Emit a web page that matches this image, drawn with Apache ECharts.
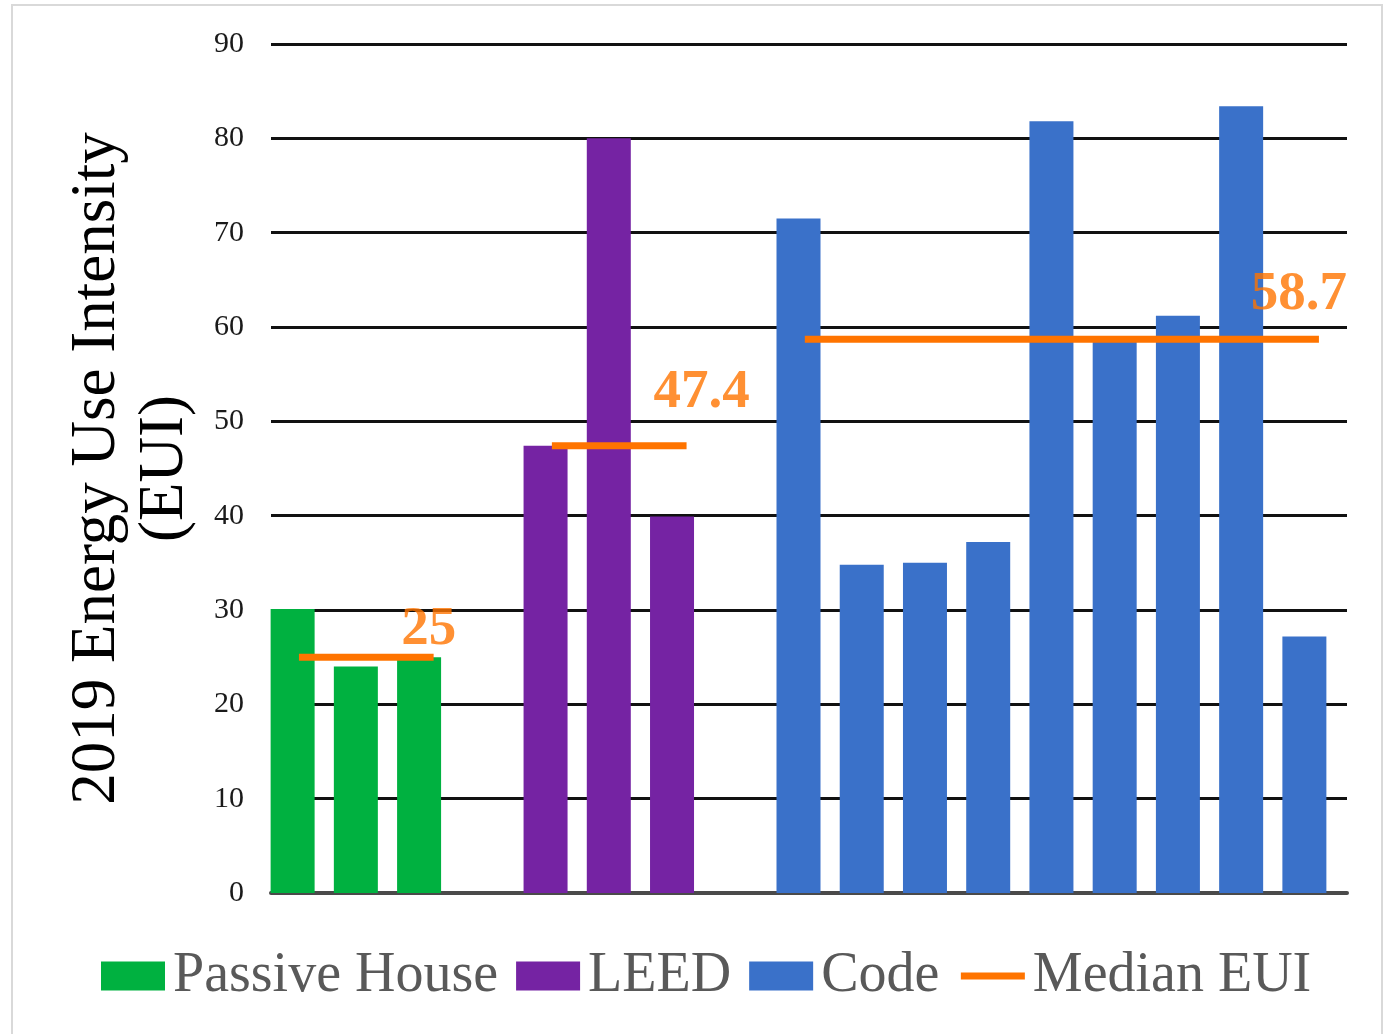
<!DOCTYPE html>
<html>
<head>
<meta charset="utf-8">
<script src="https://cdn.jsdelivr.net/npm/echarts@6/dist/echarts.min.js"></script>
<style>
  html, body { margin: 0; padding: 0; background: #fff; }
  #chart { width: 1386px; height: 1034px; }
</style>
</head>
<body>
<div id="chart"></div>
<script>
// building categories (gaps separate the three groups)
const categories = [
  'PH 1', 'PH 2', 'PH 3', 'gap 1',
  'LEED 1', 'LEED 2', 'LEED 3', 'gap 2',
  'Code 1', 'Code 2', 'Code 3', 'Code 4', 'Code 5', 'Code 6', 'Code 7', 'Code 8', 'Code 9'
];
const passiveHouse = [30.1, 24.0, 25.0];
const leed = [47.4, 80.0, 39.9];
const code = [71.5, 34.8, 35.0, 37.2, 81.8, 58.7, 61.2, 83.4, 27.2];
const medianEui = [25, 47.4, 58.7];
const yTicks = [0, 10, 20, 30, 40, 50, 60, 70, 80, 90];

const groupStart = [0, 4, 8];
const groupData = [passiveHouse, leed, code];
const groupNames = ['Passive House', 'LEED', 'Code'];
const groupColors = ['#00b140', '#7523a3', '#3a71c9'];
const orange = '#ff7400';
const serif = '"Liberation Serif", "Times New Roman", serif';
// label offsets from the right end of each median line
const labelOffsets = [[-5, -27], [15, -53], [-20, -44]];

function padSeries(values, start) {
  return categories.map((c, i) => {
    const k = i - start;
    return k >= 0 && k < values.length ? values[k] : '-';
  });
}

const series = [];
groupData.forEach((values, g) => {
  series.push({
    name: groupNames[g],
    type: 'bar',
    xAxisIndex: 0,
    yAxisIndex: 0,
    barWidth: 44,
    barGap: '-100%',
    itemStyle: { color: groupColors[g] },
    data: padSeries(values, groupStart[g]),
    z: 2,
  });
});

medianEui.forEach((m, g) => {
  const x0 = groupStart[g] + 0.6;
  const x1 = groupStart[g] + groupData[g].length - 1 + 0.73;
  series.push({
    name: 'Median EUI',
    type: 'line',
    xAxisIndex: 1,
    yAxisIndex: 0,
    symbol: 'none',
    lineStyle: { color: orange, width: 7 },
    itemStyle: { color: orange },
    data: [[x0, m], [x1, m]],
    z: 3,
  });
  series.push({
    type: 'scatter',
    xAxisIndex: 1,
    yAxisIndex: 0,
    symbolSize: 1,
    itemStyle: { color: 'transparent' },
    label: {
      show: true,
      position: 'inside',
      offset: labelOffsets[g],
      formatter: String(m),
      color: orange,
      fontFamily: serif,
      fontWeight: 'bold',
      fontSize: 55,
    },
    data: [[x1, m]],
    z: 4,
  });
});

const chart = echarts.init(document.getElementById('chart'));
chart.setOption({
  animation: false,
  backgroundColor: '#fff',
  graphic: [{
    type: 'rect',
    shape: { x: 12, y: 5, width: 1370, height: 1040 },
    style: { fill: 'none', stroke: '#d9d9d9', lineWidth: 2 },
    silent: true,
  }],
  grid: [
    { left: 261, right: 50, top: 44, bottom: 141 },
    { left: 271, right: 39, top: 44, bottom: 141 },
  ],
  legend: {
    left: 96,
    top: 943,
    itemWidth: 64,
    itemHeight: 29,
    itemGap: 18,
    textStyle: {
      fontFamily: serif,
      fontSize: 56,
      color: '#595959',
      padding: [0, 0, 0, 3],
    },
    data: [
      { name: 'Passive House', icon: 'rect' },
      { name: 'LEED', icon: 'rect' },
      { name: 'Code', icon: 'rect' },
      { name: 'Median EUI', itemStyle: { opacity: 0 }, lineStyle: { width: 7 } },
    ],
  },
  xAxis: [
    { type: 'category', gridIndex: 0, data: categories, show: false },
    { type: 'value', gridIndex: 0, min: 0, max: categories.length, show: false },
    {
      type: 'value', gridIndex: 1, min: 0, max: 1,
      axisLine: { show: true, lineStyle: { color: '#4a4a4a', width: 4 } },
      axisTick: { show: false },
      axisLabel: { show: false },
      splitLine: { show: false },
    },
  ],
  yAxis: [
    { type: 'value', gridIndex: 0, min: 0, max: 90, interval: 10, show: false },
    {
      type: 'value',
      gridIndex: 1,
      min: yTicks[0],
      max: yTicks[yTicks.length - 1],
      interval: 10,
      axisLine: { show: false },
      axisTick: { show: false },
      axisLabel: {
        margin: 27,
        fontFamily: serif,
        fontSize: 30,
        color: '#1a1a1a',
      },
      splitLine: { lineStyle: { color: '#111', width: 3 } },
      name: '2019 Energy Use Intensity\n(EUI)',
      nameLocation: 'middle',
      nameRotate: 90,
      nameGap: 72,
      nameTextStyle: {
        fontFamily: serif,
        fontSize: 63,
        lineHeight: 68,
        color: '#000',
      },
    },
  ],
  series,
});
</script>
</body>
</html>
